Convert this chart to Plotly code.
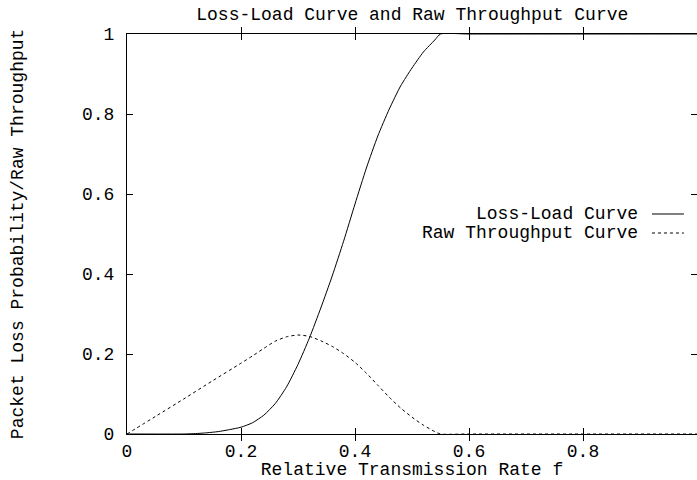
import plotly.graph_objects as go

# Loss-Load curve (packet loss probability vs relative transmission rate)
f_loss = [0.0, 0.10, 0.12, 0.14, 0.16, 0.18, 0.20, 0.22, 0.24, 0.26, 0.28, 0.30,
          0.32, 0.34, 0.36, 0.38, 0.40, 0.42, 0.44, 0.46, 0.48, 0.50, 0.52, 0.54,
          0.55, 0.60, 1.0]
loss = [0.0, 0.0, 0.001, 0.003, 0.006, 0.011, 0.017, 0.028, 0.047, 0.076, 0.118, 0.174,
        0.240, 0.315, 0.395, 0.482, 0.575, 0.665, 0.745, 0.812, 0.870, 0.915, 0.955, 0.985,
        1.0, 1.0, 1.0]

# Raw throughput curve
f_thr = [0.0, 0.05, 0.10, 0.15, 0.20, 0.22, 0.24, 0.26, 0.28, 0.30, 0.32, 0.34,
         0.36, 0.38, 0.40, 0.42, 0.44, 0.46, 0.48, 0.50, 0.52, 0.54, 0.55, 0.60, 1.0]
thr = [0.0, 0.044, 0.088, 0.133, 0.177, 0.195, 0.214, 0.232, 0.243, 0.2475, 0.244, 0.233,
       0.219, 0.201, 0.179, 0.152, 0.122, 0.092, 0.065, 0.042, 0.022, 0.006, 0.0, 0.0, 0.0]

x_ticks = [0, 0.2, 0.4, 0.6, 0.8, 1.0]
x_ticktext = ["0", "0.2", "0.4", "0.6", "0.8", "1"]
y_ticks = [0, 0.2, 0.4, 0.6, 0.8, 1.0]
y_ticktext = ["0", "0.2", "0.4", "0.6", "0.8", "1"]

FONT = "Liberation Mono, Courier New, monospace"

fig = go.Figure()
fig.add_trace(go.Scatter(x=f_loss, y=loss, mode="lines", name="Loss-Load Curve",
                         line=dict(color="black", width=1, shape="spline", smoothing=0.6),
                         showlegend=False))
fig.add_trace(go.Scatter(x=f_thr, y=thr, mode="lines", name="Raw Throughput Curve",
                         line=dict(color="black", width=1, dash="3px,3px",
                                   shape="spline", smoothing=0.6),
                         showlegend=False))
# empty helper trace so the right-hand tick axis is drawn
fig.add_trace(go.Scatter(x=[None], y=[None], yaxis="y2", mode="lines",
                         showlegend=False, hoverinfo="skip"))

fig.update_layout(
    width=697, height=480,
    margin=dict(l=127, r=0, t=34, b=46),
    paper_bgcolor="white", plot_bgcolor="white",
    font=dict(family=FONT, size=18, color="black"),
    title=dict(text="Loss-Load Curve and Raw Throughput Curve", x=0.5915, xanchor="center",
               y=0.971, yanchor="middle", font=dict(family=FONT, size=18, color="black")),
    xaxis=dict(range=[0, 1], showgrid=False, zeroline=False, showline=True,
               linecolor="black", linewidth=1, mirror="allticks", ticks="inside", ticklen=6,
               tickcolor="black", tickvals=x_ticks, ticktext=x_ticktext,
               tickfont=dict(family=FONT, size=18, color="black"),
               title=dict(text="Relative Transmission Rate f", standoff=2,
                          font=dict(family=FONT, size=18, color="black"))),
    yaxis=dict(range=[0, 1], showgrid=False, zeroline=False, showline=True,
               linecolor="black", linewidth=1, ticks="inside", ticklen=6,
               tickcolor="black", tickvals=y_ticks, ticktext=y_ticktext,
               ticklabelstandoff=8,
               tickfont=dict(family=FONT, size=18, color="black")),
    yaxis2=dict(range=[0, 1], overlaying="y", side="right", showgrid=False, zeroline=False,
                showline=False, ticks="inside", ticklen=6, tickcolor="black",
                tickvals=y_ticks, showticklabels=False),
)

# y-axis title
fig.add_annotation(text="Packet Loss Probability/Raw Throughput", xref="paper", yref="paper",
                   x=-0.191, y=0.5, textangle=-90, showarrow=False,
                   xanchor="center", yanchor="middle",
                   font=dict(family=FONT, size=18, color="black"))

# legend (gnuplot style: text right-aligned, sample to the right)
legend_rows = [("Loss-Load Curve", 0.55, "solid"), ("Raw Throughput Curve", 0.5025, "3px,3px")]
for label, yy, dash in legend_rows:
    fig.add_annotation(text=label, xref="paper", yref="paper", x=0.9, y=yy,
                       xanchor="right", yanchor="middle", showarrow=False,
                       font=dict(family=FONT, size=18, color="black"))
    fig.add_shape(type="line", xref="paper", yref="paper", x0=0.921, x1=0.977, y0=yy, y1=yy,
                  line=dict(color="black", width=1, dash=dash))

fig.write_html("out.html")
